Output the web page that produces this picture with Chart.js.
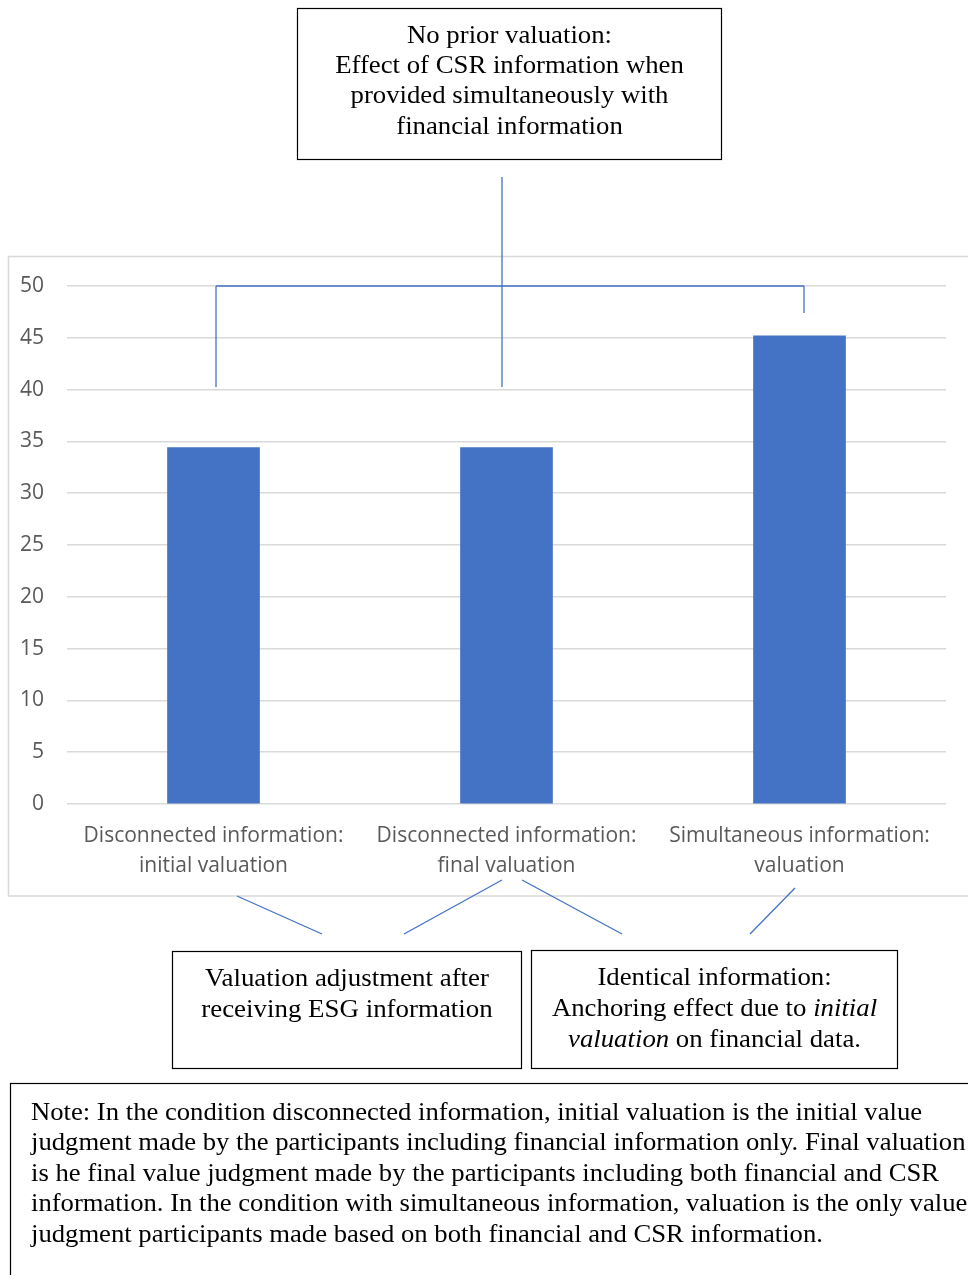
<!DOCTYPE html>
<html>
<head>
<meta charset="utf-8">
<script src="https://cdn.jsdelivr.net/npm/chart.js@4/dist/chart.umd.min.js"></script>
<style>
  html, body { margin: 0; padding: 0; background: #fff; }
  #wrap { width: 968px; height: 1275px; }
</style>
</head>
<body>
<div id="wrap"><canvas id="valChart" width="968" height="1275"></canvas></div>
<script>
// =============================
// DATA
// =============================
const categories = [
  ["Disconnected information:", "initial valuation"],
  ["Disconnected information:", "final valuation"],
  ["Simultaneous information:", "valuation"]
];
const valuations = [34.4, 34.4, 45.2];
const yTicks = [0, 5, 10, 15, 20, 25, 30, 35, 40, 45, 50];

const topBoxLines = [
  "No prior valuation:",
  "Effect of CSR information when",
  "provided simultaneously with",
  "financial information"
];
const adjustBoxLines = ["Valuation adjustment after", "receiving ESG information"];
const anchorBoxLines = [
  [{ t: "Identical information:" }],
  [{ t: "Anchoring effect due to " }, { t: "initial", i: true }],
  [{ t: "valuation", i: true }, { t: " on financial data." }]
];
const noteLines = [
  "Note: In the condition disconnected information, initial valuation is the initial value",
  "judgment made by the participants including financial information only. Final valuation",
  "is he final value judgment made by the participants including both financial and CSR",
  "information. In the condition with simultaneous information, valuation is the only value",
  "judgment participants made based on both financial and CSR information."
];

const BLUE = "#4472C4";
const SERIF = "'Liberation Serif', 'Times New Roman', serif";

// draw a line made of plain / italic pieces, centred on cx
function richLine(ctx, parts, cx, y, size) {
  let total = 0;
  parts.forEach(p => {
    ctx.font = (p.i ? "italic " : "") + size + "px " + SERIF;
    p.w = ctx.measureText(p.t).width;
    total += p.w;
  });
  let x = cx - total / 2;
  ctx.textAlign = "left";
  parts.forEach(p => {
    ctx.font = (p.i ? "italic " : "") + size + "px " + SERIF;
    ctx.fillText(p.t, x, y);
    x += p.w;
  });
}

// text block stretched a little sideways, anchored at x
function stretched(ctx, sx, x, fn) {
  ctx.save();
  ctx.translate(x, 0);
  ctx.scale(sx, 1);
  fn();
  ctx.restore();
}

function seg(ctx, x1, y1, x2, y2) {
  ctx.beginPath();
  ctx.moveTo(x1, y1);
  ctx.lineTo(x2, y2);
  ctx.stroke();
}

const annotations = {
  id: "annotations",
  beforeDraw(chart) {
    const ctx = chart.ctx;
    ctx.save();
    ctx.fillStyle = "#fff";
    ctx.fillRect(0, 0, chart.width, chart.height);
    // chart frame
    ctx.strokeStyle = "#d9d9d9";
    ctx.lineWidth = 1.5;
    ctx.strokeRect(8.5, 256.5, 980, 639.5);
    ctx.restore();
  },
  afterDraw(chart) {
    const ctx = chart.ctx;
    const y = chart.scales.y;
    const top = y.getPixelForValue(50);
    ctx.save();

    // bracket and connectors
    ctx.strokeStyle = BLUE;
    ctx.lineWidth = 1.3;
    seg(ctx, 216, top, 804, top);
    seg(ctx, 216, top, 216, 387);
    seg(ctx, 804, top, 804, 313);
    seg(ctx, 502, 177, 502, 387);
    seg(ctx, 237, 896, 322, 934);
    seg(ctx, 404, 934, 502, 880);
    seg(ctx, 522, 880, 622, 934);
    seg(ctx, 750, 934, 795, 888);

    // boxes
    ctx.strokeStyle = "#000";
    ctx.lineWidth = 1.2;
    ctx.strokeRect(297.5, 8.5, 424, 151);
    ctx.strokeRect(172.5, 951.5, 349, 117);
    ctx.strokeRect(531.5, 950.5, 366, 118);
    ctx.strokeRect(10.5, 1083.5, 980, 220);

    ctx.fillStyle = "#000";
    ctx.textBaseline = "middle";

    stretched(ctx, 1.07, 509.5, () => {
      ctx.textAlign = "center";
      ctx.font = "25px " + SERIF;
      topBoxLines.forEach((t, i) => ctx.fillText(t, 0, 36 + i * 30.4));
    });

    stretched(ctx, 1.035, 347, () => {
      ctx.textAlign = "center";
      ctx.font = "26px " + SERIF;
      adjustBoxLines.forEach((t, i) => ctx.fillText(t, 0, 979 + i * 31));
    });

    stretched(ctx, 1.03, 714.5, () => {
      anchorBoxLines.forEach((parts, i) => richLine(ctx, parts, 0, 978 + i * 31, 26));
    });

    stretched(ctx, 1.066, 31, () => {
      ctx.textAlign = "left";
      ctx.font = "25px " + SERIF;
      noteLines.forEach((t, i) => ctx.fillText(t, 0, 1113 + i * 30.5));
    });

    ctx.restore();
  }
};

const ctx = document.getElementById("valChart").getContext("2d");

new Chart(ctx, {
  type: "bar",
  data: {
    labels: categories,
    datasets: [{
      data: valuations,
      backgroundColor: BLUE,
      borderWidth: 0,
      barThickness: 92
    }]
  },
  options: {
    responsive: false,
    animation: false,
    layout: { padding: { left: 0, right: 22, top: 286, bottom: 391 } },
    plugins: {
      legend: { display: false },
      tooltip: { enabled: false }
    },
    scales: {
      x: {
        grid: { display: false },
        border: { display: false },
        afterFit: s => { s.height = 80; },
        ticks: {
          color: "#595959",
          padding: 9,
          maxRotation: 0,
          autoSkip: false,
          font: { family: "'Open Sans'", size: 21, lineHeight: 1.43 }
        }
      },
      y: {
        min: 0,
        max: 50,
        afterFit: s => { s.width = 67; },
        afterBuildTicks: s => { s.ticks = yTicks.map(v => ({ value: v })); },
        border: { display: false },
        grid: { color: "#d9d9d9", lineWidth: 1.5, drawTicks: false },
        ticks: {
          color: "#595959",
          padding: 23,
          font: { family: "'Open Sans'", size: 21 }
        }
      }
    }
  },
  plugins: [annotations]
});
</script>
</body>
</html>
